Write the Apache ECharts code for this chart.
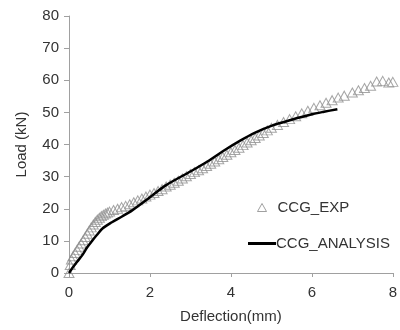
<!DOCTYPE html>
<html><head><meta charset="utf-8">
<script src="https://cdn.jsdelivr.net/npm/echarts@6/dist/echarts.min.js"></script>
<style>html,body{margin:0;padding:0;background:#fff}#c{width:400px;height:330px}</style>
</head><body><div id="c"></div>
<script>
var xTicks = [0, 2, 4, 6, 8];
var yTicks = [0, 10, 20, 30, 40, 50, 60, 70, 80];
var expX = [0, 0.03, 0.06, 0.1, 0.15, 0.2, 0.25, 0.3, 0.35, 0.4, 0.45, 0.5, 0.55, 0.6, 0.65, 0.7, 0.75, 0.8, 0.85, 0.9, 0.95, 1.0, 1.1, 1.2, 1.3, 1.4, 1.5, 1.6, 1.7, 1.8, 1.9, 2.0, 2.1, 2.2, 2.3, 2.4, 2.5, 2.6, 2.7, 2.8, 2.9, 3.0, 3.1, 3.2, 3.3, 3.4, 3.5, 3.6, 3.7, 3.8, 3.9, 4.0, 4.1, 4.2, 4.3, 4.4, 4.5, 4.6, 4.7, 4.8, 4.9, 5.0, 5.15, 5.3, 5.45, 5.6, 5.75, 5.9, 6.05, 6.2, 6.35, 6.5, 6.65, 6.8, 7.0, 7.15, 7.3, 7.45, 7.6, 7.75, 7.9, 8.0];
var expY = [0, 2.5, 4.2, 5.2, 6.2, 7.2, 8.2, 9.2, 10.2, 11.2, 12.2, 13.2, 14.2, 15.1, 15.9, 16.6, 17.2, 17.7, 18.1, 18.5, 18.8, 19.1, 19.6, 20.0, 20.5, 20.9, 21.4, 22.0, 22.6, 23.2, 23.8, 24.4, 24.9, 25.5, 26.1, 26.9, 27.5, 28.1, 28.7, 29.4, 30.1, 30.8, 31.4, 32.0, 32.6, 33.3, 34.0, 34.7, 35.4, 36.1, 36.8, 37.6, 38.3, 39.0, 39.8, 40.6, 41.3, 42.0, 42.8, 43.6, 44.4, 45.2, 46.1, 47.0, 47.9, 48.8, 49.7, 50.5, 51.4, 52.2, 53.0, 53.8, 54.6, 55.2, 56.2, 56.9, 57.6, 58.3, 59.6, 59.8, 59.3, 59.5];
var anaX = [0, 0.07, 0.2, 0.32, 0.45, 0.57, 0.7, 0.82, 1.06, 1.31, 1.56, 2.0, 2.38, 3.0, 3.37, 3.8, 4.23, 4.6, 5.0, 5.5, 6.0, 6.3, 6.63];
var anaY = [0, 1.3, 3.5, 5.4, 8.0, 10.0, 12.0, 13.8, 15.8, 17.6, 19.5, 23.6, 27.2, 31.6, 34.3, 37.9, 41.2, 43.7, 45.8, 47.7, 49.4, 50.2, 51.0];

function pairs(xs, ys) { return xs.map(function (x, i) { return [x, ys[i]]; }); }

var chart = echarts.init(document.getElementById('c'), null, {renderer: 'canvas'});
var FF = 'Liberation Sans, Arial, sans-serif';
var axisText = {color: '#333', fontFamily: FF, fontSize: 15};
chart.setOption({
  animation: false,
  backgroundColor: '#fff',
  grid: {left: 69, right: 7, top: 16, bottom: 57},
  xAxis: {
    type: 'value', min: xTicks[0], max: xTicks[xTicks.length - 1], interval: 2,
    name: 'Deflection(mm)', nameLocation: 'middle', nameGap: 36,
    nameTextStyle: axisText,
    axisLine: {show: true, lineStyle: {color: '#a0a0a0', width: 1}},
    axisTick: {show: true, length: 4, lineStyle: {color: '#a0a0a0'}},
    axisLabel: Object.assign({margin: 12}, axisText),
    splitLine: {show: false}
  },
  yAxis: {
    type: 'value', min: yTicks[0], max: yTicks[yTicks.length - 1], interval: 10,
    name: 'Load (kN)', nameLocation: 'middle', nameGap: 40,
    nameTextStyle: axisText,
    axisLine: {show: true, lineStyle: {color: '#a0a0a0', width: 1}},
    axisTick: {show: true, length: 5, lineStyle: {color: '#a0a0a0'}},
    axisLabel: Object.assign({margin: 10}, axisText),
    splitLine: {show: false}
  },
  legend: [{
    data: [{name: 'CCG_EXP', icon: 'triangle', itemStyle: {color: 'transparent', borderColor: '#888', borderWidth: 1}}],
    left: 257, top: 200, padding: 0, itemWidth: 9, itemHeight: 8,
    textStyle: {color: '#333', fontSize: 15, fontFamily: FF, padding: [0, 0, 0, 6]}
  }, {
    data: [{name: 'CCG_ANALYSIS', icon: 'rect'}],
    left: 248, top: 236, padding: 0, itemWidth: 28, itemHeight: 3,
    textStyle: {color: '#333', fontSize: 15, fontFamily: FF, padding: [0, 0, 0, -5]}
  }],
  series: [{
    name: 'CCG_EXP', type: 'scatter', data: pairs(expX, expY),
    symbol: 'triangle', symbolSize: [10, 9],
    itemStyle: {color: 'transparent', borderColor: '#909090', borderWidth: 1}
  }, {
    name: 'CCG_ANALYSIS', type: 'line', data: pairs(anaX, anaY),
    showSymbol: false, symbol: 'none', smooth: 0.3,
    lineStyle: {color: '#000', width: 2.5},
    itemStyle: {color: '#000'}
  }]
});
</script></body></html>
